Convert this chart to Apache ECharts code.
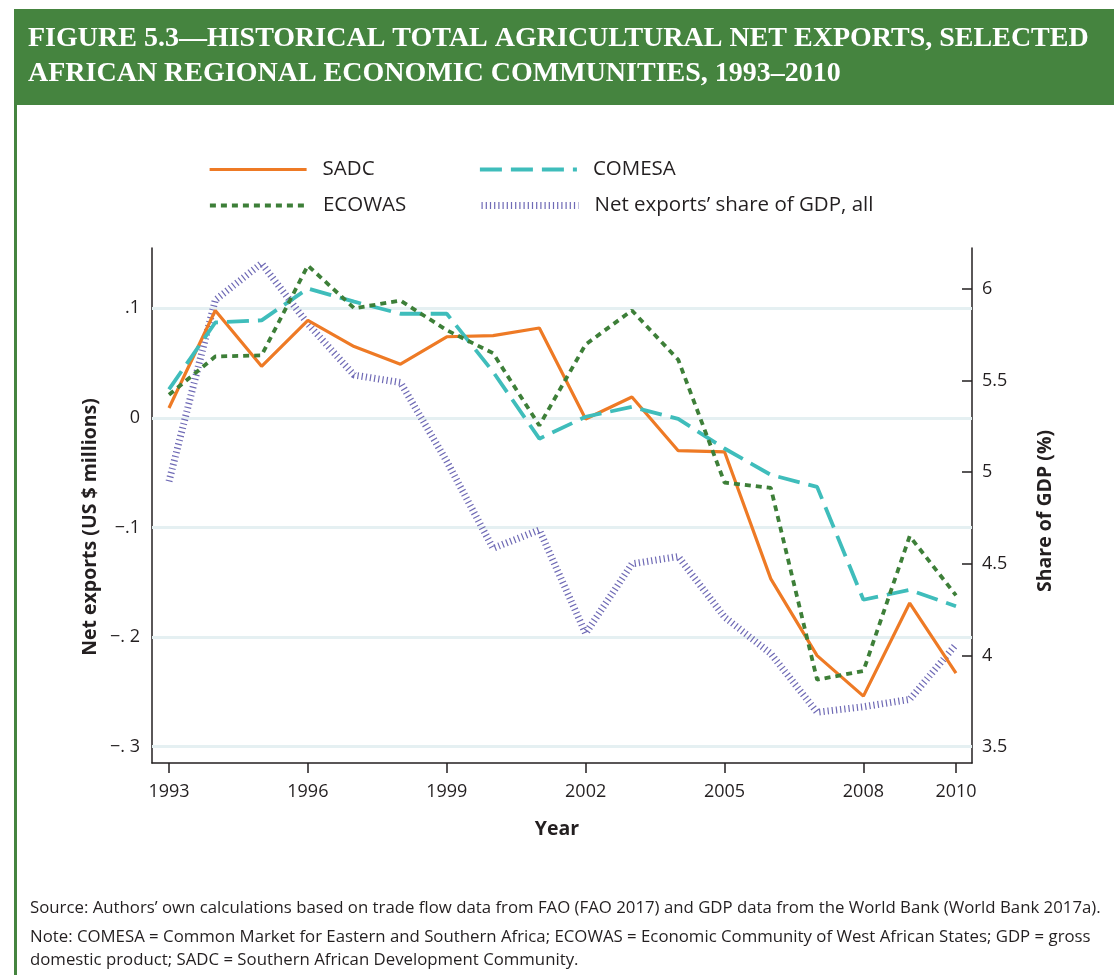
<!DOCTYPE html>
<html><head><meta charset="utf-8">
<script src="https://cdn.jsdelivr.net/npm/echarts@6/dist/echarts.min.js"></script>
<style>html,body{margin:0;padding:0;background:#fff}#c{width:1114px;height:975px}</style>
</head><body><div id="c"></div>
<script>
// ---- data ----
const years = [1993,1994,1995,1996,1997,1998,1999,2000,2001,2002,2003,2004,2005,2006,2007,2008,2009,2010];
const sadc = [0.009,0.098,0.047,0.089,0.065,0.049,0.074,0.075,0.082,-0.001,0.019,-0.030,-0.031,-0.147,-0.217,-0.254,-0.169,-0.233];
const comesa = [0.026,0.087,0.089,0.118,0.106,0.095,0.095,0.042,-0.019,0.001,0.010,-0.001,-0.028,-0.052,-0.063,-0.166,-0.157,-0.172];
const ecowas = [0.021,0.056,0.057,0.139,0.100,0.107,0.080,0.059,-0.007,0.067,0.098,0.053,-0.059,-0.064,-0.239,-0.231,-0.108,-0.162];
const gdpShare = [4.95,5.94,6.14,5.81,5.53,5.49,5.06,4.585,4.685,4.12,4.50,4.54,4.21,4.01,3.69,3.72,3.76,4.06];
const xTicks = [1993,1996,1999,2002,2005,2008,2010];
const leftTicks = [-0.3,-0.2,-0.1,0,0.1];
const leftTickLabels = {'-0.3':'−. 3','-0.2':'−. 2','-0.1':'−.1','0':'0','0.1':'.1'};
const rightTicks = [3.5,4,4.5,5,5.5,6];
const seriesNames = ['SADC','COMESA','ECOWAS','Net exports’ share of GDP, all'];

const SANS = '"Open Sans", "Noto Sans", sans-serif';
const GREEN = '#45843f';
const pair = arr => arr.map((v,i)=>[years[i], v]);

const styles = [
  {color:'#ee7a25', width:3.2, type:'solid'},
  {color:'#3fbdbb', width:3.8, type:[22,9]},
  {color:'#3d7f38', width:3.8, type:[6,5]},
  {color:'#6f6ab5', width:7, type:[1.2,3]}
];

const chart = echarts.init(document.getElementById('c'));
const axisLineStyle = {color:'#231f20', width:1.5};
const legendPos = [[208,159],[478,159],[208,195],[478,195]];
const legends = [0,1,2,3].map(k=>({
  orient:'horizontal', padding:0, itemWidth:97, itemHeight:14,
  left:legendPos[k][0], top:legendPos[k][1], data:[seriesNames[k]],
  itemStyle:{opacity:0},
  lineStyle:{width:styles[k].width},
  textStyle:{fontSize:20.5, color:'#231f20', fontFamily:SANS, padding:[0,0,0,11]}
}));
chart.setOption({
  animation:false,
  backgroundColor:'#fff',
  textStyle:{fontFamily:SANS},
  graphic:[
    {type:'rect', shape:{x:14,y:9,width:1100,height:96}, style:{fill:GREEN}, silent:true},
    {type:'rect', shape:{x:14,y:105,width:3,height:870}, style:{fill:GREEN}, silent:true},
    {type:'text', x:28, y:39, style:{text:'FIGURE 5.3—HISTORICAL TOTAL AGRICULTURAL NET EXPORTS, SELECTED', fill:'#fff', font:'bold 28px "Liberation Serif", serif', verticalAlign:'middle'}},
    {type:'text', x:28, y:74, style:{text:'AFRICAN REGIONAL ECONOMIC COMMUNITIES, 1993–2010', fill:'#fff', font:'bold 28px "Liberation Serif", serif', verticalAlign:'middle'}},
    {type:'text', x:90, y:527, rotation:Math.PI/2, style:{text:'Net exports (US $ millions)', fill:'#231f20', font:'bold 19.5px '+SANS, align:'center', verticalAlign:'middle'}},
    {type:'text', x:1045, y:511, rotation:Math.PI/2, style:{text:'Share of GDP (%)', fill:'#231f20', font:'bold 19.5px '+SANS, align:'center', verticalAlign:'middle'}},
    {type:'text', x:557, y:829, style:{text:'Year', fill:'#231f20', font:'bold 19.5px '+SANS, align:'center', verticalAlign:'middle'}},
    {type:'text', x:30, y:908, style:{text:'Source: Authors’ own calculations based on trade flow data from FAO (FAO 2017) and GDP data from the World Bank (World Bank 2017a).', fill:'#231f20', font:'16.8px '+SANS, verticalAlign:'middle'}},
    {type:'text', x:30, y:937, style:{text:'Note: COMESA = Common Market for Eastern and Southern Africa; ECOWAS = Economic Community of West African States; GDP = gross', fill:'#231f20', font:'16.8px '+SANS, verticalAlign:'middle'}},
    {type:'text', x:30, y:960, style:{text:'domestic product; SADC = Southern African Development Community.', fill:'#231f20', font:'16.8px '+SANS, verticalAlign:'middle'}}
  ],
  legend: legends,
  grid:{left:152, right:142, top:248, bottom:212, containLabel:false},
  xAxis:{type:'value', min:1992.633, max:2010.346,
    axisLine:{onZero:false, lineStyle:axisLineStyle}, splitLine:{show:false},
    axisTick:{customValues:xTicks, length:10, inside:false, lineStyle:axisLineStyle},
    axisLabel:{customValues:xTicks, fontSize:18, color:'#231f20', margin:20, formatter:v=>String(v)}},
  yAxis:[
    {type:'value', min:-0.315, max:0.155, position:'left',
     axisLine:{show:true, onZero:false, lineStyle:axisLineStyle}, splitLine:{show:false},
     axisTick:{show:true, customValues:leftTicks, inside:true, length:11, lineStyle:axisLineStyle},
     axisLabel:{customValues:leftTicks, fontSize:18, color:'#231f20', margin:12,
       formatter:v=>leftTickLabels[String(Math.round(v*10)/10)] ?? ''}},
    {type:'value', min:3.413, max:6.224, position:'right',
     axisLine:{show:true, onZero:false, lineStyle:axisLineStyle}, splitLine:{show:false},
     axisTick:{show:true, customValues:rightTicks, inside:true, length:10, lineStyle:axisLineStyle},
     axisLabel:{customValues:rightTicks, fontSize:18, color:'#231f20', margin:10}}
  ],
  series:[
    {name:seriesNames[3], type:'line', yAxisIndex:1, data:pair(gdpShare), symbol:'none', z:2,
     lineStyle:styles[3], itemStyle:{color:styles[3].color}},
    {name:seriesNames[0], type:'line', data:pair(sadc), symbol:'none', z:3,
     lineStyle:styles[0], itemStyle:{color:styles[0].color},
     markLine:{silent:true, symbol:'none', label:{show:false}, z:1,
       lineStyle:{color:'#e5f0f2', width:3, type:'solid'},
       data:leftTicks.map(v=>({yAxis:v}))}},
    {name:seriesNames[1], type:'line', data:pair(comesa), symbol:'none', z:4,
     lineStyle:styles[1], itemStyle:{color:styles[1].color}},
    {name:seriesNames[2], type:'line', data:pair(ecowas), symbol:'none', z:5,
     lineStyle:styles[2], itemStyle:{color:styles[2].color}}
  ]
});
</script></body></html>
